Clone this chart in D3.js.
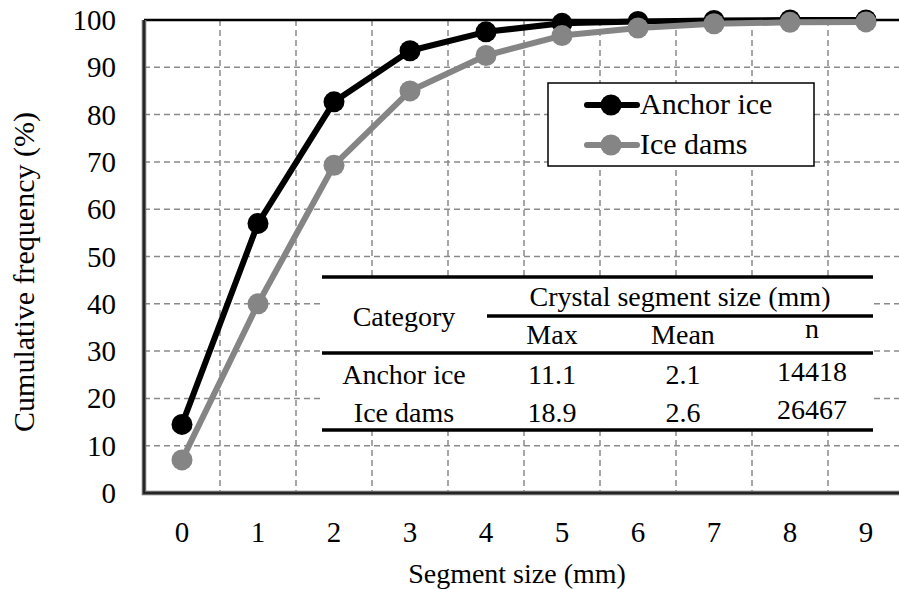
<!DOCTYPE html>
<html>
<head>
<meta charset="utf-8">
<script src="https://cdn.jsdelivr.net/npm/d3@7"></script>
<style>
	body { margin: 0; background: #fff; }
	svg { display: block; }
</style>
</head>
<body>
<div id="chart"></div>
<script>
// data
const sizes = [0, 1, 2, 3, 4, 5, 6, 7, 8, 9];
const anchorIce = [14.5, 57, 82.7, 93.5, 97.5, 99.3, 99.7, 99.9, 100, 100];
const iceDams = [7, 40, 69.3, 85, 92.5, 96.7, 98.3, 99.2, 99.5, 99.6];
const yTicks = [0, 10, 20, 30, 40, 50, 60, 70, 80, 90, 100];

const tableHeader = ["Max", "Mean", "n"];
const tableRows = [
	["Anchor ice", "11.1", "2.1", "14418"],
	["Ice dams", "18.9", "2.6", "26467"]
];

const series = [
	{ name: "Anchor ice", values: anchorIce, color: "#000000" },
	{ name: "Ice dams", values: iceDams, color: "#858585" }
];

const W = 899, H = 589;
const margin = { top: 20, right: -5, bottom: 96, left: 144 };

const svg = d3.select("#chart")
	.append("svg")
	.attr("width", W)
	.attr("height", H);

const x = d3.scaleBand()
	.domain(sizes)
	.range([margin.left, W - margin.right]);

const y = d3.scaleLinear()
	.domain([0, 100])
	.range([H - margin.bottom, margin.top]);

const gridColor = "#8a8a8a";

// horizontal grid
svg.append("g")
	.selectAll("line")
	.data(yTicks.filter(d => d > 0 && d < 100))
	.join("line")
	.attr("x1", margin.left)
	.attr("x2", W)
	.attr("y1", d => y(d))
	.attr("y2", d => y(d))
	.attr("stroke", gridColor)
	.attr("stroke-width", 1.5)
	.attr("stroke-dasharray", "6,4");

// vertical grid, between categories (excel style)
svg.append("g")
	.selectAll("line")
	.data(sizes.slice(1))
	.join("line")
	.attr("x1", d => x(d))
	.attr("x2", d => x(d))
	.attr("y1", y(100))
	.attr("y2", y(0))
	.attr("stroke", gridColor)
	.attr("stroke-width", 1.5)
	.attr("stroke-dasharray", "6,4");

// plot border: top solid, left and bottom double
svg.append("line")
	.attr("x1", margin.left).attr("x2", W)
	.attr("y1", y(100)).attr("y2", y(100))
	.attr("stroke", "#000").attr("stroke-width", 2.5);

svg.append("path")
	.attr("d", `M${margin.left},${y(100)}V${y(0)}H${W}`)
	.attr("fill", "none")
	.attr("stroke", "#666")
	.attr("stroke-width", 4.5);
svg.append("path")
	.attr("d", `M${margin.left},${y(100)}V${y(0)}H${W}`)
	.attr("fill", "none")
	.attr("stroke", "#111")
	.attr("stroke-width", 1.5);

// table (white background hides the grid)
const tb = { x0: 322, x1: 873, top: 277, sub: 316, mid: 353, bottom: 430 };
const colX = [404, 552, 683, 812];
const table = svg.append("g").attr("font-size", 28).attr("fill", "#000").attr("text-anchor", "middle");

table.append("rect")
	.attr("x", tb.x0).attr("y", tb.top)
	.attr("width", tb.x1 - tb.x0).attr("height", tb.bottom - tb.top)
	.attr("fill", "#fff");

[[tb.x0, tb.top], [487, tb.sub], [tb.x0, tb.mid], [tb.x0, tb.bottom]].forEach(([x0, yy]) => {
	table.append("line")
		.attr("x1", x0).attr("x2", tb.x1)
		.attr("y1", yy).attr("y2", yy)
		.attr("stroke", "#000").attr("stroke-width", 3.5);
});

table.append("text").attr("x", colX[0]).attr("y", 326).text("Category");
table.append("text").attr("x", 680).attr("y", 306).text("Crystal segment size (mm)");
tableHeader.forEach((h, i) => {
	table.append("text").attr("x", colX[i + 1]).attr("y", h === "n" ? 338 : 344).text(h);
});
tableRows.forEach((row, r) => {
	row.forEach((cell, c) => {
		table.append("text")
			.attr("x", colX[c])
			.attr("y", (r === 0 ? 384 : 422) - (c === 3 ? 3 : 0))
			.text(cell);
	});
});

// lines and markers
const line = d3.line()
	.x((d, i) => x(sizes[i]) + x.bandwidth() / 2)
	.y(d => y(d));

const layers = svg.append("g");
// ice dams drawn last so it sits on top, as in the picture
series.forEach(s => {
	const g = layers.append("g");
	g.append("path")
		.attr("d", line(s.values))
		.attr("fill", "none")
		.attr("stroke", s.color)
		.attr("stroke-width", 6)
		.attr("stroke-linejoin", "round");
	g.selectAll("circle")
		.data(s.values)
		.join("circle")
		.attr("cx", (d, i) => x(sizes[i]) + x.bandwidth() / 2)
		.attr("cy", d => y(d))
		.attr("r", 10.5)
		.attr("fill", s.color);
});

// legend
const lg = svg.append("g");
lg.append("rect")
	.attr("x", 548).attr("y", 83)
	.attr("width", 266).attr("height", 83)
	.attr("fill", "#fff")
	.attr("stroke", "#000")
	.attr("stroke-width", 1.5);
series.forEach((s, i) => {
	const ly = 105 + i * 40;
	lg.append("line")
		.attr("x1", 587).attr("x2", 637)
		.attr("y1", ly).attr("y2", ly)
		.attr("stroke", s.color).attr("stroke-width", 6).attr("stroke-linecap", "round");
	lg.append("circle")
		.attr("cx", 611).attr("cy", ly).attr("r", 10.5)
		.attr("fill", s.color);
	lg.append("text")
		.attr("x", 640).attr("y", ly + 9)
		.attr("font-size", 30)
		.attr("fill", "#000")
		.text(s.name);
});

// y axis labels
svg.append("g")
	.selectAll("text")
	.data(yTicks)
	.join("text")
	.attr("x", 116)
	.attr("y", d => y(d) + 10)
	.attr("text-anchor", "end")
	.attr("font-size", 29)
	.text(d => d);

// x axis labels
svg.append("g")
	.selectAll("text")
	.data(sizes)
	.join("text")
	.attr("x", d => x(d) + x.bandwidth() / 2)
	.attr("y", 542)
	.attr("text-anchor", "middle")
	.attr("font-size", 29)
	.text(d => d);

// axis titles
svg.append("text")
	.attr("x", 517)
	.attr("y", 583)
	.attr("text-anchor", "middle")
	.attr("font-size", 28)
	.text("Segment size (mm)");

svg.append("text")
	.attr("transform", "translate(34, 272) rotate(-90)")
	.attr("text-anchor", "middle")
	.attr("font-size", 30)
	.text("Cumulative frequency (%)");

svg.selectAll("text").style("font-family", "\"Liberation Serif\"");
</script>
</body>
</html>
